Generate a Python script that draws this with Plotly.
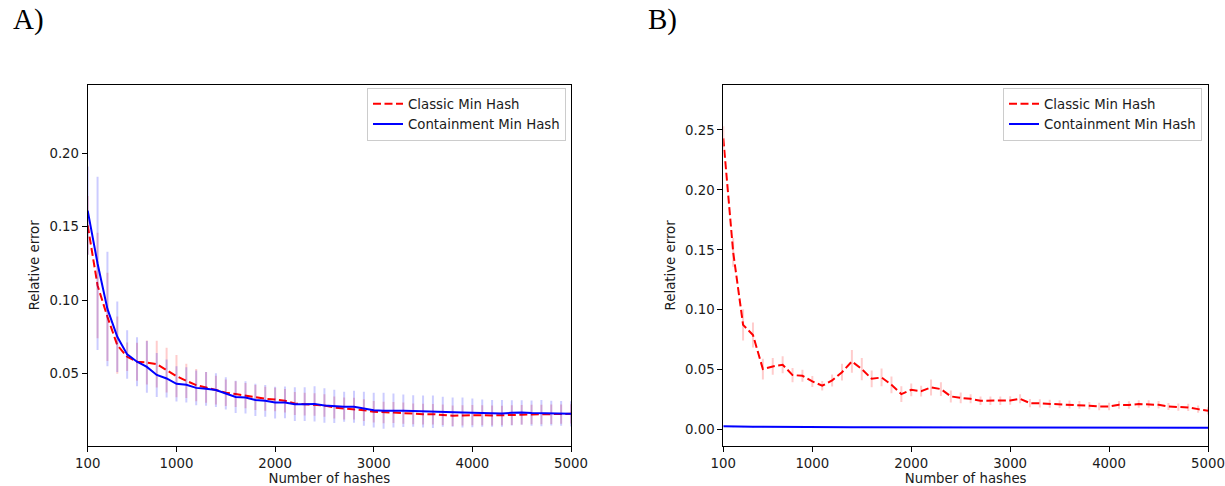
import plotly.graph_objects as go

# ---------------- data ----------------
hashes = [100, 200, 300, 400, 500, 600, 700, 800, 900, 1000,
          1100, 1200, 1300, 1400, 1500, 1600, 1700, 1800, 1900, 2000,
          2100, 2200, 2300, 2400, 2500, 2600, 2700, 2800, 2900, 3000,
          3100, 3200, 3300, 3400, 3500, 3600, 3700, 3800, 3900, 4000,
          4100, 4200, 4300, 4400, 4500, 4600, 4700, 4800, 4900, 5000]

a_classic = [0.151, 0.110, 0.0886, 0.0693, 0.0614, 0.058, 0.0575, 0.0564, 0.0523, 0.0482,
             0.045, 0.0421, 0.0405, 0.0387, 0.0369, 0.036, 0.035, 0.0337, 0.0328, 0.0323,
             0.0314, 0.0296, 0.0291, 0.0289, 0.0282, 0.0268, 0.0262, 0.026, 0.025, 0.0239,
             0.0234, 0.0234, 0.023, 0.0225, 0.0223, 0.0223, 0.0219, 0.0212, 0.0214, 0.0216,
             0.0216, 0.0214, 0.0214, 0.0216, 0.0219, 0.0221, 0.0221, 0.0222, 0.0223, 0.0225]
a_classic_err = [0.020, 0.036, 0.030, 0.0195, 0.0097, 0.013, 0.015, 0.016, 0.0153, 0.0144,
                 0.0117, 0.011, 0.0105, 0.0098, 0.009, 0.0088, 0.0086, 0.0085, 0.0082, 0.008,
                 0.008, 0.0078, 0.0078, 0.0077, 0.0076, 0.0075, 0.0075, 0.0074, 0.0074, 0.0073,
                 0.0073, 0.0072, 0.0072, 0.0071, 0.0071, 0.007, 0.007, 0.007, 0.0069, 0.0069,
                 0.0068, 0.0068, 0.0067, 0.0067, 0.0067, 0.0066, 0.0066, 0.0066, 0.0065, 0.0065]
a_cont = [0.161, 0.125, 0.094, 0.075, 0.063, 0.058, 0.0545, 0.049, 0.0466, 0.043,
          0.0423, 0.0402, 0.0396, 0.0387, 0.0364, 0.034, 0.0337, 0.032, 0.0314, 0.0302,
          0.0303, 0.0291, 0.0291, 0.0293, 0.0282, 0.0276, 0.0273, 0.0273, 0.026, 0.025,
          0.0246, 0.0248, 0.0246, 0.0244, 0.0241, 0.0239, 0.0239, 0.0237, 0.0234, 0.0232,
          0.023, 0.0228, 0.0228, 0.0232, 0.0234, 0.023, 0.023, 0.023, 0.0228, 0.0225]
a_cont_err = [0.030, 0.059, 0.039, 0.024, 0.0165, 0.0167, 0.0176, 0.015, 0.013, 0.012,
              0.012, 0.0118, 0.0115, 0.0115, 0.011, 0.011, 0.011, 0.011, 0.0108, 0.0108,
              0.0108, 0.0115, 0.0115, 0.012, 0.0118, 0.0114, 0.0102, 0.0109, 0.0116, 0.0118,
              0.0123, 0.0116, 0.0111, 0.0107, 0.0109, 0.0111, 0.0102, 0.010, 0.0102, 0.0098,
              0.0093, 0.0091, 0.0091, 0.0086, 0.0084, 0.0086, 0.0089, 0.0084, 0.0084, 0.0086]

b_classic = [0.243, 0.148, 0.0875, 0.079, 0.0506, 0.0528, 0.0542, 0.0456, 0.045, 0.0403,
             0.0367, 0.0411, 0.048, 0.057, 0.0506, 0.0425, 0.0436, 0.0375, 0.0297, 0.0333,
             0.0322, 0.0353, 0.0339, 0.0278, 0.0266, 0.0258, 0.0242, 0.0242, 0.0242, 0.0244,
             0.0258, 0.0222, 0.022, 0.0217, 0.0214, 0.0211, 0.0208, 0.020, 0.0194, 0.0194,
             0.0208, 0.0206, 0.0214, 0.0214, 0.0208, 0.0194, 0.0189, 0.0186, 0.0172, 0.0158]
b_classic_err = [0.010, 0.012, 0.013, 0.0105, 0.0086, 0.007, 0.007, 0.006, 0.005, 0.0046,
                 0.004, 0.005, 0.007, 0.0095, 0.0093, 0.007, 0.0074, 0.007, 0.0065, 0.0053,
                 0.0045, 0.0067, 0.0058, 0.005, 0.0045, 0.0038, 0.0036, 0.0036, 0.0035, 0.0035,
                 0.0038, 0.0034, 0.0034, 0.0033, 0.0033, 0.0033, 0.0032, 0.0032, 0.0032, 0.0031,
                 0.0032, 0.0031, 0.0031, 0.0031, 0.0031, 0.003, 0.003, 0.003, 0.003, 0.003]
b_cont = [0.0030, 0.0026, 0.0025, 0.0024, 0.0024, 0.0023, 0.0023, 0.0022, 0.0022, 0.0022,
          0.0022, 0.0022, 0.0021, 0.0021, 0.0021, 0.0021, 0.0021, 0.0021, 0.0020, 0.0020,
          0.0020, 0.0020, 0.0020, 0.0020, 0.0020, 0.0019, 0.0019, 0.0019, 0.0019, 0.0019,
          0.0019, 0.0019, 0.0019, 0.0018, 0.0018, 0.0018, 0.0018, 0.0018, 0.0018, 0.0018,
          0.0018, 0.0018, 0.0018, 0.0017, 0.0017, 0.0017, 0.0017, 0.0017, 0.0017, 0.0017]
b_cont_err = [0.0006, 0.0005, 0.0005, 0.0005, 0.0005, 0.0004, 0.0004, 0.0004, 0.0004, 0.0004,
              0.0004, 0.0004, 0.0004, 0.0004, 0.0004, 0.0004, 0.0004, 0.0004, 0.0004, 0.0004,
              0.0004, 0.0004, 0.0004, 0.0004, 0.0004, 0.0004, 0.0004, 0.0004, 0.0004, 0.0004,
              0.0004, 0.0004, 0.0004, 0.0004, 0.0004, 0.0004, 0.0004, 0.0004, 0.0004, 0.0004,
              0.0004, 0.0004, 0.0004, 0.0004, 0.0004, 0.0004, 0.0004, 0.0004, 0.0004, 0.0004]

x_ticks = [100, 1000, 2000, 3000, 4000, 5000]
a_yticks = [0.05, 0.10, 0.15, 0.20]
b_yticks = [0.00, 0.05, 0.10, 0.15, 0.20, 0.25]
series_names = ["Classic Min Hash", "Containment Min Hash"]
panel_labels = ["A)", "B)"]

# ---------------- styles ----------------
RED = "#ff0000"
BLUE = "#0000ff"
RED_ERR = "rgba(255,0,0,0.2)"
BLUE_ERR = "rgba(0,0,255,0.2)"
FONT = "DejaVu Sans"
FS = 13.3
W, H = 1225, 486


def px_x(p):
    return p / W


def px_y(p):
    return 1 - p / H


fig = go.Figure()


def add_pair(classic, classic_err, cont, cont_err, xa, ya, legend):
    fig.add_trace(go.Scatter(
        x=hashes, y=classic, mode="lines", name=series_names[0],
        line=dict(color=RED, width=2, dash="8px,3.5px"),
        error_y=dict(type="data", array=classic_err, visible=True,
                     color=RED_ERR, thickness=2, width=0),
        xaxis=xa, yaxis=ya, legend=legend))
    fig.add_trace(go.Scatter(
        x=hashes, y=cont, mode="lines", name=series_names[1],
        line=dict(color=BLUE, width=2),
        error_y=dict(type="data", array=cont_err, visible=True,
                     color=BLUE_ERR, thickness=2, width=0),
        xaxis=xa, yaxis=ya, legend=legend))


add_pair(a_classic, a_classic_err, a_cont, a_cont_err, "x", "y", "legend")
add_pair(b_classic, b_classic_err, b_cont, b_cont_err, "x2", "y2", "legend2")

axis_common = dict(
    showgrid=False, zeroline=False, showline=True, linecolor="black",
    linewidth=1, mirror=True, ticks="outside", ticklen=5, tickwidth=1,
    tickcolor="black", tickfont=dict(family=FONT, size=FS, color="#1a1a1a"),
    automargin=False,
)

y_dom = [px_y(445.7), px_y(85)]

fig.update_layout(
    width=W, height=H,
    margin=dict(l=0, r=0, t=0, b=0),
    paper_bgcolor="white", plot_bgcolor="white",
    font=dict(family=FONT, size=FS, color="#1a1a1a"),
    xaxis=dict(axis_common, domain=[px_x(87.7), px_x(571)], range=[100, 5000],
               tickvals=x_ticks, ticktext=[str(v) for v in x_ticks],
               title=dict(text="Number of hashes", standoff=5,
                          font=dict(family=FONT, size=FS))),
    yaxis=dict(axis_common, domain=y_dom, range=[0.0008, 0.2466],
               tickvals=a_yticks, ticktext=["%.2f" % v for v in a_yticks],
               title=dict(text="Relative error", standoff=6,
                          font=dict(family=FONT, size=FS))),
    xaxis2=dict(axis_common, domain=[px_x(723.3), px_x(1208)], range=[100, 5000],
                anchor="y2",
                tickvals=x_ticks, ticktext=[str(v) for v in x_ticks],
                title=dict(text="Number of hashes", standoff=5,
                           font=dict(family=FONT, size=FS))),
    yaxis2=dict(axis_common, domain=y_dom, range=[-0.0133, 0.2875],
                anchor="x2",
                tickvals=b_yticks, ticktext=["%.2f" % v for v in b_yticks],
                title=dict(text="Relative error", standoff=6,
                           font=dict(family=FONT, size=FS))),
    legend=dict(x=px_x(566), xanchor="right", y=px_y(87.5), yanchor="top",
                bgcolor="rgba(255,255,255,0.8)", bordercolor="#cccccc",
                borderwidth=1, font=dict(family=FONT, size=FS, color="#1a1a1a"),
                tracegroupgap=0),
    legend2=dict(x=px_x(1202), xanchor="right", y=px_y(87.5), yanchor="top",
                 bgcolor="rgba(255,255,255,0.8)", bordercolor="#cccccc",
                 borderwidth=1, font=dict(family=FONT, size=FS, color="#1a1a1a"),
                 tracegroupgap=0),
    showlegend=True,
)

for lab, xp in zip(panel_labels, [11, 646]):
    fig.add_annotation(
        text=lab, xref="paper", yref="paper", x=px_x(xp), y=px_y(1),
        xanchor="left", yanchor="top", showarrow=False,
        font=dict(family="Liberation Serif", size=29, color="black"))

fig.write_html("out.html")
